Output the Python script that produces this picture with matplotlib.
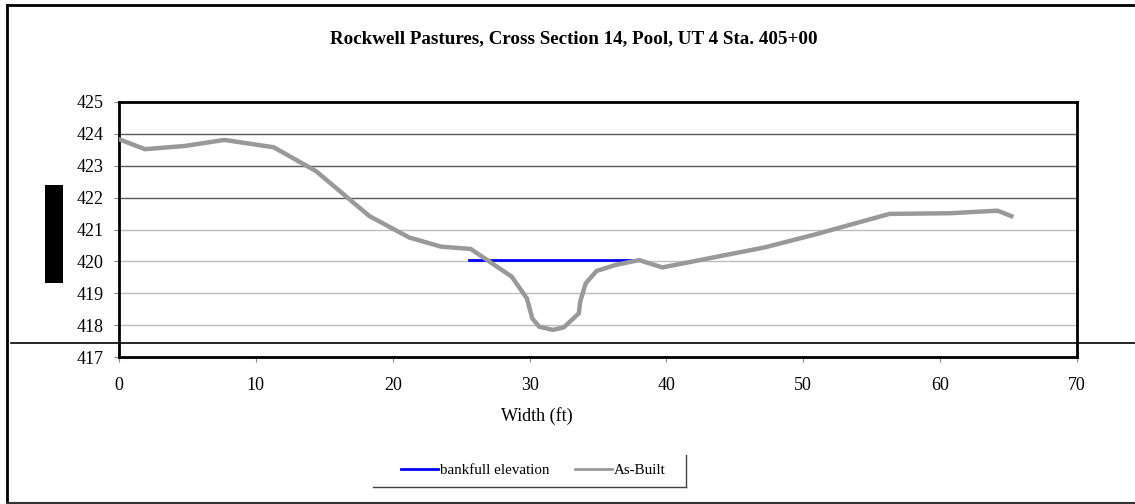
import matplotlib
matplotlib.use("Agg")
import matplotlib.pyplot as plt
from matplotlib.patches import Rectangle
from matplotlib.lines import Line2D

# Surveyed as-built cross-section (station ft, elevation ft)
station = [0.0, 1.9, 4.8, 7.7, 11.3, 14.4, 18.3, 21.2, 23.55, 25.7, 28.7, 29.8,
           30.2, 30.7, 31.7, 32.5, 33.6, 33.7, 34.1, 34.9, 36.3, 38.0, 39.7,
           47.2, 51.0, 56.3, 60.7, 64.2, 65.2]
elevation = [423.83, 423.52, 423.62, 423.81, 423.58, 422.83, 421.42, 420.75,
             420.46, 420.39, 419.52, 418.84, 418.21, 417.95, 417.85, 417.93,
             418.37, 418.74, 419.31, 419.70, 419.89, 420.04, 419.81,
             420.44, 420.86, 421.49, 421.51, 421.59, 421.42]

# Bankfull elevation line
bankfull_station = [25.6, 37.6]
bankfull_elev = [420.03, 420.03]

x_ticks = [0, 10, 20, 30, 40, 50, 60, 70]
y_ticks = [417, 418, 419, 420, 421, 422, 423, 424, 425]

W, H = 1135, 504
plt.rcParams['font.family'] = ['Liberation Serif', 'DejaVu Serif']
fig = plt.figure(figsize=(W / 100, H / 100), dpi=100)

def fx(px):
    return px / W

def fy(py):
    return 1 - py / H

ax = fig.add_axes([fx(119), fy(357), fx(1077) - fx(119), fy(102) - fy(357)])

# gridlines: upper ones darker, lower ones light
for y in y_ticks[1:-1]:
    col = '#5a5a5a' if y >= 422 else '#bdbdbd'
    ax.axhline(y, color=col, lw=1.0, zorder=1)

line_bf, = ax.plot(bankfull_station, bankfull_elev, color='#0000ff', lw=2.0,
                   zorder=3, label='bankfull elevation')
line_ab, = ax.plot(station, elevation, color='#999999', lw=3.2, zorder=4,
                   solid_joinstyle='miter', label='As-Built')

ax.set_xlim(0, 70)
ax.set_ylim(417, 425)
ax.set_xticks(x_ticks)
ax.set_yticks(y_ticks)
ax.tick_params(axis='both', direction='out', length=3.6, width=0.8, color='#888888',
               labelsize=13)
ax.tick_params(axis='x', pad=10.5)
ax.tick_params(axis='y', pad=7.5)
for s in ax.spines.values():
    s.set_color('black')
    s.set_linewidth(2.0)

# axis title, placed left of the plot centre
fig.text(fx(536.5), fy(416), 'Width (ft)', ha='center', va='center', fontsize=13)

fig.text(fx(574), fy(39), 'Rockwell Pastures, Cross Section 14, Pool, UT 4 Sta. 405+00',
         ha='center', va='center', fontsize=13.7, fontweight='bold')

# legend without box, then its bottom and right edges
h_bf = Line2D([], [], color='#0000ff', lw=2.0)
h_ab = Line2D([], [], color='#999999', lw=2.0)
fig.legend(handles=[h_bf, h_ab], labels=['bankfull elevation', 'As-Built'],
           loc='center', ncol=2, frameon=False,
           bbox_to_anchor=(fx(533), fy(470)), fontsize=10.8, handlelength=2.5,
           handletextpad=0.1, columnspacing=1.7)
fig.add_artist(Line2D([fx(373), fx(686)], [fy(487), fy(487)], color='#444444', lw=1.0))
fig.add_artist(Line2D([fx(686), fx(686)], [fy(487), fy(455)], color='#444444', lw=1.0))

# outer frame
fig.add_artist(Line2D([fx(7), fx(7)], [fy(5), fy(503)], color='black', lw=2.0))
fig.add_artist(Line2D([fx(7), fx(1135)], [fy(5), fy(5)], color='black', lw=2.0))
fig.add_artist(Line2D([fx(7), fx(1135)], [fy(503), fy(503)], color='#333333', lw=1.5))

# black marker block and the long horizontal rule
fig.add_artist(Rectangle((fx(45), fy(283)), fx(63) - fx(45), fy(185) - fy(283),
                         facecolor='black', edgecolor='none'))
fig.add_artist(Line2D([fx(11), fx(1135)], [fy(342.5), fy(342.5)], color='black', lw=1.2))

fig.savefig('out.png', dpi=100)
